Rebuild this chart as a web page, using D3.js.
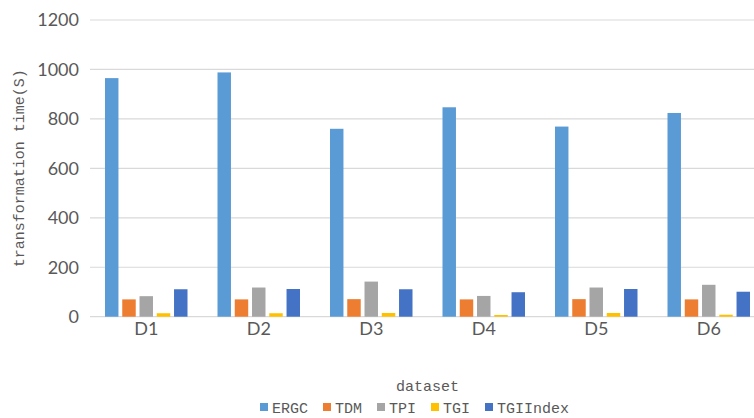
<!DOCTYPE html>
<html>
<head>
<meta charset="utf-8">
<script src="https://cdn.jsdelivr.net/npm/d3@7"></script>
<style>
  html, body { margin: 0; padding: 0; background: #fff; }
  svg { display: block; }
</style>
</head>
<body>
<svg id="chart" width="754" height="418"></svg>
<script>
// Datasets and the transformation time (seconds) of each method
const categories = ["D1", "D2", "D3", "D4", "D5", "D6"];
const seriesNames = ["ERGC", "TDM", "TPI", "TGI", "TGIIndex"];
const ERGC     = [965, 988, 760, 847, 769, 824];
const TDM      = [70, 70, 71, 70, 71, 70];
const TPI      = [83, 118, 142, 84, 118, 129];
const TGI      = [14, 14, 15, 7, 15, 8];
const TGIIndex = [111, 112, 111, 99, 112, 101];
const yTicks   = [0, 200, 400, 600, 800, 1000, 1200];
const colors   = ["#5B9BD5", "#ED7D31", "#A5A5A5", "#FFC000", "#4472C4"];

const seriesValues = [ERGC, TDM, TPI, TGI, TGIIndex];

const svg = d3.select("#chart");
const plot = { left: 90, right: 765, top: 20, bottom: 316.7 };

const x0 = d3.scaleBand().domain(categories).range([plot.left, plot.right]).paddingInner(0).paddingOuter(0);
const x1 = d3.scaleBand().domain(seriesNames).range([15, x0.bandwidth() - 15]).paddingInner(0.22).paddingOuter(0);
const y = d3.scaleLinear().domain([0, 1200]).range([plot.bottom, plot.top]);

const tickFont = "Lato, 'Open Sans', sans-serif";
const monoFont = "'Liberation Mono', 'DejaVu Sans Mono', monospace";

// horizontal gridlines
svg.append("g")
  .selectAll("line")
  .data(yTicks)
  .join("line")
  .attr("x1", plot.left).attr("x2", 754)
  .attr("y1", d => y(d)).attr("y2", d => y(d))
  .attr("stroke", "#D9D9D9").attr("stroke-width", 1.2);

// y axis labels
const yAxis = d3.axisLeft(y).tickValues(yTicks).tickFormat(d3.format("d")).tickSize(0).tickPadding(11);
const gy = svg.append("g").attr("transform", `translate(${plot.left},0)`).call(yAxis);
gy.select(".domain").remove();
gy.selectAll("text")
  .attr("font-family", tickFont).attr("font-size", 18).attr("fill", "#595959");

// x axis labels
const xAxis = d3.axisBottom(x0).tickSize(0).tickPadding(6);
const gx = svg.append("g").attr("transform", `translate(0,${plot.bottom})`).call(xAxis);
gx.select(".domain").remove();
gx.selectAll("text")
  .attr("font-family", tickFont).attr("font-size", 18).attr("fill", "#595959");

// bars
const groups = svg.append("g")
  .selectAll("g")
  .data(categories)
  .join("g")
  .attr("transform", d => `translate(${x0(d)},0)`);

groups.selectAll("rect")
  .data((d, i) => seriesNames.map((s, k) => ({ s, v: seriesValues[k][i], c: colors[k] })))
  .join("rect")
  .attr("x", d => x1(d.s))
  .attr("width", x1.bandwidth())
  .attr("y", d => y(d.v))
  .attr("height", d => y(0) - y(d.v))
  .attr("fill", d => d.c);

// axis titles
svg.append("text")
  .attr("transform", `translate(24,${(plot.top + plot.bottom) / 2}) rotate(-90)`)
  .attr("text-anchor", "middle")
  .attr("font-family", monoFont).attr("font-size", 15).attr("fill", "#595959")
  .text("transformation time(S)");

svg.append("text")
  .attr("x", (plot.left + plot.right) / 2).attr("y", 391)
  .attr("text-anchor", "middle")
  .attr("font-family", monoFont).attr("font-size", 15).attr("fill", "#595959")
  .text("dataset");

// legend
const legend = svg.append("g").attr("transform", "translate(260,0)");
let lx = 0;
seriesNames.forEach((name, k) => {
  const item = legend.append("g").attr("transform", `translate(${lx},0)`);
  item.append("rect").attr("x", 0).attr("y", 403).attr("width", 8).attr("height", 8).attr("fill", colors[k]);
  item.append("text").attr("x", 12).attr("y", 413)
    .attr("font-family", monoFont).attr("font-size", 15).attr("fill", "#595959")
    .text(name);
  lx += 12 + name.length * 9 + 15;
});
</script>
</body>
</html>
